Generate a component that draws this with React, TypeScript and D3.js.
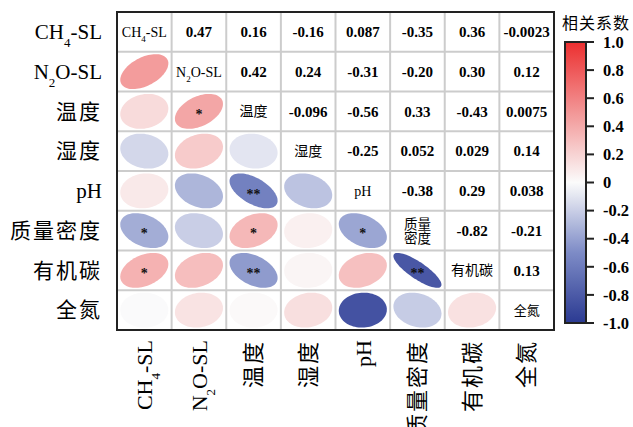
import React from "react";
import * as d3 from "d3";

// variable names (digits after letters are drawn as subscripts)
const variables = ["CH4-SL", "N2O-SL", "温度", "湿度", "pH", "质量密度", "有机碳", "全氮"];

// upper triangle, row i holds corr(i, j) for j > i, as printed
const upperValues: string[][] = [
  ["0.47", "0.16", "-0.16", "0.087", "-0.35", "0.36", "-0.0023"],
  ["0.42", "0.24", "-0.31", "-0.20", "0.30", "0.12"],
  ["-0.096", "-0.56", "0.33", "-0.43", "0.0075"],
  ["-0.25", "0.052", "0.029", "0.14"],
  ["-0.38", "0.29", "0.038"],
  ["-0.82", "-0.21"],
  ["0.13"],
];

// significance marks in the lower triangle: [row, col, mark]
const stars: [number, number, string][] = [
  [2, 1, "*"],
  [4, 2, "**"],
  [5, 0, "*"],
  [5, 2, "*"],
  [5, 4, "*"],
  [6, 0, "*"],
  [6, 2, "**"],
  [6, 5, "**"],
];

// the picture shades this one ellipse differently from its printed value
const shadeOverrides: [number, number, number][] = [[7, 4, -0.85]];

const colorTicks = [1.0, 0.8, 0.6, 0.4, 0.2, 0, -0.2, -0.4, -0.6, -0.8, -1.0];

const W = 633;
const H = 427;
const grid = { left: 117, right: 554, top: 12, bottom: 330 };
const bar = { x: 565, w: 21, top: 42, bottom: 323 };
const serif = "'Liberation Serif', 'Times New Roman', 'Noto Sans CJK SC', serif";

const color = d3
  .scaleLinear<string>()
  .domain([-1, -0.5, 0, 0.5, 1])
  .range(["#2b3a92", "#7d8bc6", "#fbfbfb", "#f29696", "#ec2f30"])
  .interpolate(d3.interpolateRgb);

function corr(i: number, j: number): number {
  if (i === j) return 1;
  const a = Math.min(i, j);
  const b = Math.max(i, j);
  return +upperValues[a][b - a - 1];
}

function label(name: string, subSize: number) {
  const m = name.match(/^([A-Za-z]+)(\d)(.*)$/);
  if (!m) return name;
  return (
    <>
      {m[1]}
      <tspan fontSize={subSize} baselineShift="sub">
        {m[2]}
      </tspan>
      {m[3]}
    </>
  );
}

const isCJK = (s: string) => /[\u4e00-\u9fff]/.test(s);

const tSteps = d3.range(0, 2 * Math.PI, Math.PI / 40);

function ellipsePath(r: number, cx: number, cy: number, a: number, b: number) {
  const d = Math.acos(Math.max(-1, Math.min(1, r)));
  const pts: [number, number][] = tSteps.map((t) => [
    cx + a * Math.cos(t + d / 2),
    cy - b * Math.cos(t - d / 2),
  ]);
  return d3.line().curve(d3.curveLinearClosed)(pts) || "";
}

export default function App() {
  const idx = d3.range(variables.length);
  const x = d3.scaleBand<number>().domain(idx).range([grid.left, grid.right]);
  const y = d3.scaleBand<number>().domain(idx).range([grid.top, grid.bottom]);
  const cw = x.bandwidth();
  const ch = y.bandwidth();
  const barY = d3.scaleLinear().domain([1, -1]).range([bar.top, bar.bottom]);

  const cells: React.ReactNode[] = [];
  idx.forEach((i) =>
    idx.forEach((j) => {
      const cx = x(j)! + cw / 2;
      const cy = y(i)! + ch / 2;
      const key = `${i}-${j}`;
      if (i === j) {
        const name = variables[i];
        if (name === "质量密度") {
          cells.push(
            <text key={key} x={cx} textAnchor="middle" fontFamily={serif} fontSize={13.5}>
              <tspan x={cx} y={cy - 2}>质量</tspan>
              <tspan x={cx} y={cy + 12}>密度</tspan>
            </text>
          );
        } else {
          cells.push(
            <text key={key} x={cx} y={cy} dy="0.35em" textAnchor="middle" fontFamily={serif} fontSize={name === "全氮" ? 13 : 14}>
              {label(name, 9)}
            </text>
          );
        }
      } else if (j > i) {
        cells.push(
          <text key={key} x={cx} y={cy} dy="0.35em" textAnchor="middle" fontFamily={serif} fontSize={15} fontWeight="bold">
            {upperValues[i][j - i - 1]}
          </text>
        );
      } else {
        const r = corr(i, j);
        const ov = shadeOverrides.find((o) => o[0] === i && o[1] === j);
        const shade = ov ? ov[2] : r;
        cells.push(
          <path key={key} d={ellipsePath(r, cx, cy, cw * 0.44, ch * 0.44)} fill={color(shade)} />
        );
      }
    })
  );

  const gridLines: React.ReactNode[] = [];
  d3.range(1, variables.length).forEach((k) => {
    gridLines.push(
      <line key={`v${k}`} x1={x(k)} x2={x(k)} y1={grid.top} y2={grid.bottom} stroke="#cccccc" strokeWidth={2} />,
      <line key={`h${k}`} x1={grid.left} x2={grid.right} y1={y(k)} y2={y(k)} stroke="#cccccc" strokeWidth={2} />
    );
  });

  const gradStops = d3.range(0, 1.0001, 0.05);

  return (
    <div style={{ position: "absolute", left: 0, top: 0 }}>
      <svg width={W} height={H} style={{ display: "block", background: "#ffffff" }}>
        <defs>
          <linearGradient id="cbar" x1="0" y1="0" x2="0" y2="1">
            {gradStops.map((f) => (
              <stop key={f} offset={f} stopColor={color(1 - 2 * f)} />
            ))}
          </linearGradient>
        </defs>
        <rect x={grid.left} y={grid.top} width={grid.right - grid.left} height={grid.bottom - grid.top} fill="#ffffff" />
        {gridLines}
        {cells}
        {stars.map(([i, j, s]) => (
          <text key={`s${i}-${j}`} x={x(j)! + cw / 2} y={y(i)! + ch / 2} dy="0.55em" textAnchor="middle" fontFamily={serif} fontSize={14} fontWeight="bold" fill="#111">
            {s}
          </text>
        ))}
        <rect x={grid.left} y={grid.top} width={grid.right - grid.left} height={grid.bottom - grid.top} fill="none" stroke="#222" strokeWidth={2} />

        {/* row labels */}
        {idx.map((i) => (
          <text key={`yl${i}`} x={102} y={y(i)! + ch / 2} dy="0.35em" textAnchor="end" fontFamily={serif} fontSize={21} letterSpacing={isCJK(variables[i]) ? 2 : 0}>
            {label(variables[i], 13)}
          </text>
        ))}

        {/* column labels */}
        {idx.map((j) => {
          const cx = x(j)! + cw / 2;
          return (
            <text key={`xl${j}`} transform={`translate(${cx},340) rotate(-90)`} dy="0.35em" textAnchor="end" fontFamily={serif} fontSize={22} letterSpacing={isCJK(variables[j]) ? 2 : 0}>
              {label(variables[j], 13)}
            </text>
          );
        })}

        {/* colour bar */}
        <text x={596} y={29} textAnchor="middle" fontFamily={serif} fontSize={16} letterSpacing={1}>
          相关系数
        </text>
        <rect x={bar.x} y={bar.top} width={bar.w} height={bar.bottom - bar.top} fill="url(#cbar)" stroke="#222" strokeWidth={2} />
        {colorTicks.map((t) => (
          <g key={`ct${t}`}>
            <line x1={bar.x + bar.w} x2={bar.x + bar.w + 8} y1={barY(t)} y2={barY(t)} stroke="#222" strokeWidth={2} />
            <text x={603} y={barY(t)} dy="0.35em" fontFamily={serif} fontSize={16.5} fontWeight="bold">
              {t === 0 ? "0" : t.toFixed(1)}
            </text>
          </g>
        ))}
      </svg>
    </div>
  );
}
